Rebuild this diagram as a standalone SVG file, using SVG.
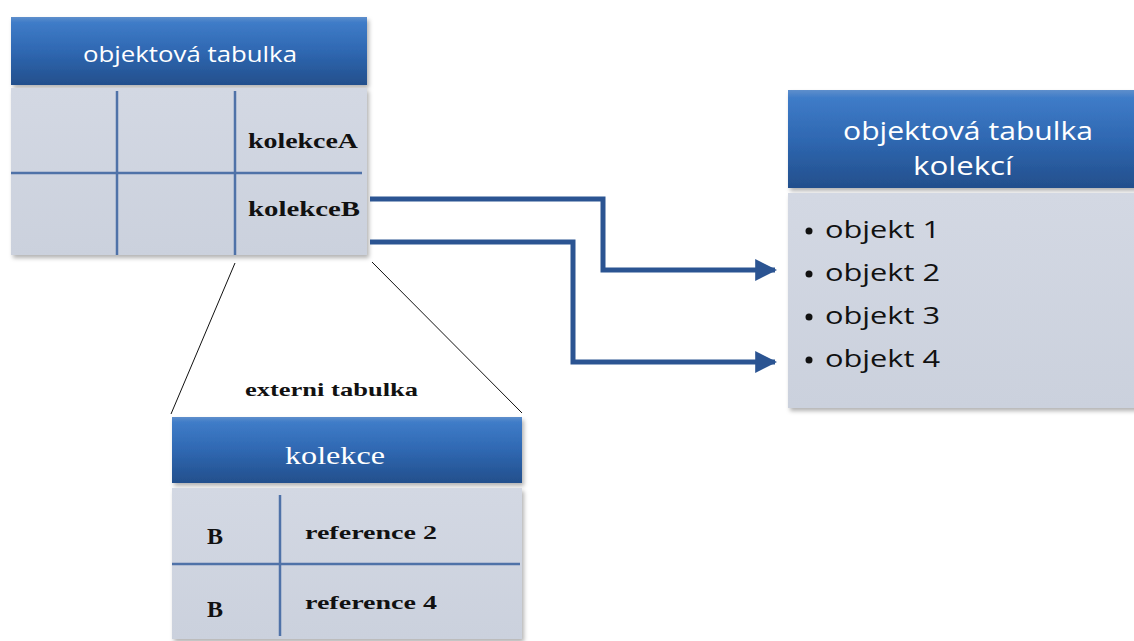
<svg xmlns="http://www.w3.org/2000/svg" width="1134" height="641" viewBox="0 0 1134 641">
<defs>
<linearGradient id="hdr" x1="0" y1="0" x2="0" y2="1">
<stop offset="0" stop-color="#5f8fcc"/>
<stop offset="0.08" stop-color="#3f7cc8"/>
<stop offset="0.5" stop-color="#2f68b2"/>
<stop offset="1" stop-color="#234f8c"/>
</linearGradient>
<linearGradient id="body" x1="0" y1="0" x2="0" y2="1">
<stop offset="0" stop-color="#d3d8e3"/>
<stop offset="1" stop-color="#cbd1dd"/>
</linearGradient>
<filter id="sh" x="-5%" y="-5%" width="115%" height="115%">
<feDropShadow dx="2" dy="3" stdDeviation="2" flood-color="#000" flood-opacity="0.3"/>
</filter>
<marker id="arr" viewBox="0 0 10 10" refX="9" refY="5" markerWidth="4.4" markerHeight="4.4" orient="auto" markerUnits="strokeWidth">
<path d="M0,0 L10,5 L0,10 Z" fill="#2b5492"/>
</marker>
</defs>
<style>
.hdr{fill:url(#hdr);}
.body{fill:url(#body);}
.grid{stroke:#4f72a8;stroke-width:2.5;fill:none;}
.ht{font-family:"Open Sans","Noto Sans",sans-serif;fill:#ffffff;text-anchor:middle;}
.hs{font-family:"Liberation Serif","DejaVu Serif",serif;fill:#ffffff;}
.st{font-family:"Liberation Serif",serif;font-weight:bold;fill:#111;}
.bt{font-family:"Open Sans","Noto Sans",sans-serif;fill:#111;font-size:23px;}
.conn{stroke:#2b5492;stroke-width:5;fill:none;}
.thin{stroke:#111;stroke-width:1;fill:none;}
</style>

<g id="objektova-tabulka">
<g filter="url(#sh)">
<rect class="hdr" x="11" y="17" width="356" height="68"/>
<rect class="body" x="11" y="88" width="356" height="167"/>
</g>
<line class="grid" x1="117" y1="91" x2="117" y2="255"/>
<line class="grid" x1="235" y1="91" x2="235" y2="255"/>
<line class="grid" x1="11" y1="173" x2="362" y2="173"/>
<text class="ht" x="190" y="62" font-size="21" textLength="214" lengthAdjust="spacingAndGlyphs">objektová tabulka</text>
<text class="st" x="248" y="148" font-size="21" textLength="110" lengthAdjust="spacingAndGlyphs">kolekceA</text>
<text class="st" x="248" y="216" font-size="21" textLength="112" lengthAdjust="spacingAndGlyphs">kolekceB</text>
</g>

<g id="tabulka-kolekci">
<g filter="url(#sh)">
<rect class="hdr" x="788" y="90" width="360" height="98"/>
<rect class="body" x="788" y="193" width="360" height="215"/>
</g>
<text class="ht" x="968" y="140" font-size="25" textLength="250" lengthAdjust="spacingAndGlyphs">objektová tabulka</text>
<text class="ht" x="963" y="175" font-size="25" textLength="100" lengthAdjust="spacingAndGlyphs">kolekcí</text>
<g class="bt">
<circle cx="809" cy="231" r="3.5" fill="#111"/>
<text x="825" y="238" textLength="115" lengthAdjust="spacingAndGlyphs">objekt 1</text>
<circle cx="809" cy="274" r="3.5" fill="#111"/>
<text x="825" y="281" textLength="115" lengthAdjust="spacingAndGlyphs">objekt 2</text>
<circle cx="809" cy="317" r="3.5" fill="#111"/>
<text x="825" y="324" textLength="115" lengthAdjust="spacingAndGlyphs">objekt 3</text>
<circle cx="809" cy="360" r="3.5" fill="#111"/>
<text x="825" y="367" textLength="115" lengthAdjust="spacingAndGlyphs">objekt 4</text>
</g>
</g>

<g id="externi-tabulka">
<text class="st" x="245" y="396" font-size="19" textLength="173" lengthAdjust="spacingAndGlyphs">externi tabulka</text>
<g filter="url(#sh)">
<rect class="hdr" x="172" y="417" width="350" height="66"/>
<rect class="body" x="172" y="488" width="350" height="151"/>
</g>
<line class="grid" x1="280" y1="495" x2="280" y2="636"/>
<line class="grid" x1="172" y1="564" x2="520" y2="564"/>
<text class="hs" x="285" y="464" font-size="26" textLength="100" lengthAdjust="spacingAndGlyphs" style="font-family:'Liberation Serif','DejaVu Serif',serif">kolekce</text>
<text class="st" x="207" y="544" font-size="24">B</text>
<text class="st" x="207" y="617" font-size="24">B</text>
<text class="st" x="305" y="539" font-size="19" textLength="132" lengthAdjust="spacingAndGlyphs">reference 2</text>
<text class="st" x="305" y="609" font-size="19" textLength="132" lengthAdjust="spacingAndGlyphs">reference 4</text>
</g>

<g id="connectors">
<polyline class="conn" points="370,199 603,199 603,270 775,270" marker-end="url(#arr)"/>
<polyline class="conn" points="370,242 573,242 573,362 775,362" marker-end="url(#arr)"/>
<line class="thin" x1="235" y1="263" x2="171" y2="414"/>
<line class="thin" x1="372" y1="262" x2="522" y2="413"/>
</g>
</svg>
